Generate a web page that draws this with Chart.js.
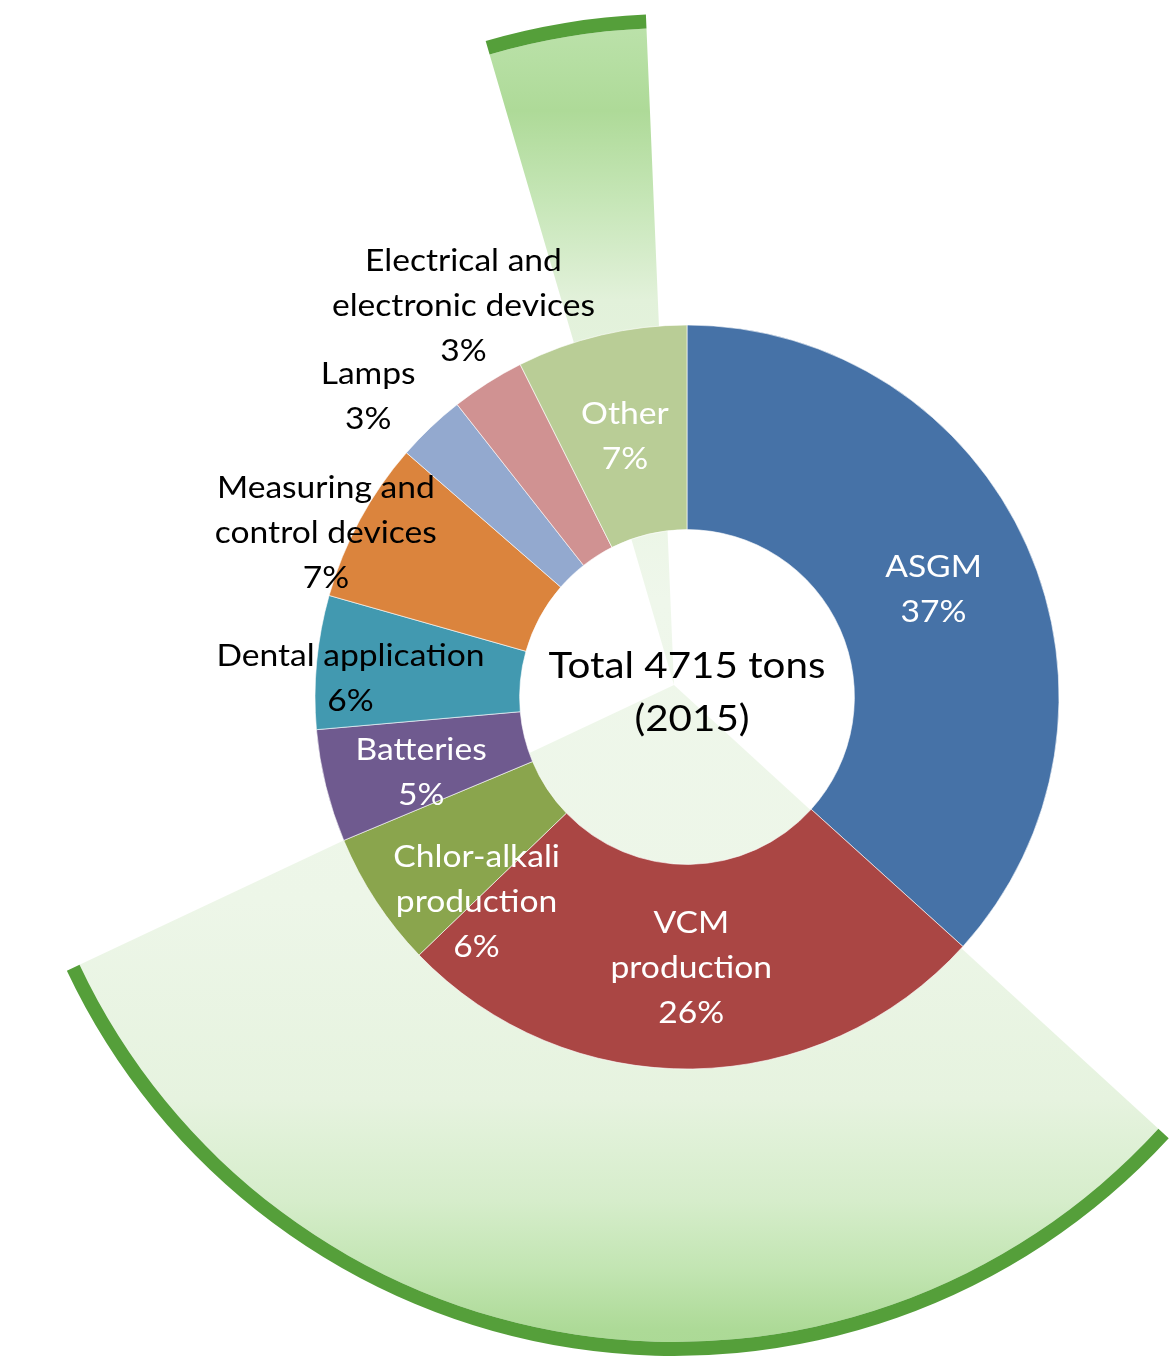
<!DOCTYPE html>
<html>
<head>
<meta charset="utf-8">
<title>Mercury use 2015</title>
<script src="https://cdn.jsdelivr.net/npm/chart.js@4.4.1/dist/chart.umd.min.js"></script>
<style>
    body { margin: 0; background: #ffffff; overflow: hidden; }
    #wrap { position: relative; width: 1171px; height: 1357px; }
    #wrap canvas { position: absolute; left: 0; top: 0; }
</style>
</head>
<body>
<div id="wrap">
    <canvas id="fanChart" width="1171" height="1357"></canvas>
    <canvas id="myChart" width="1171" height="1357"></canvas>
</div>
<script>
// categories and their share of the total (percent)
const categories = ['ASGM', 'VCM production', 'Chlor-alkali production', 'Batteries', 'Dental application',
    'Measuring and control devices', 'Lamps', 'Electrical and electronic devices', 'Other'];
const shares = [36.7, 26.1, 5.9, 4.9, 5.8, 7.0, 3.0, 3.2, 7.4];

// how the names wrap on the picture
const labelLines = [['ASGM'], ['VCM', 'production'], ['Chlor-alkali', 'production'], ['Batteries'],
    ['Dental application'], ['Measuring and', 'control devices'], ['Lamps'],
    ['Electrical and', 'electronic devices'], ['Other']];
const centerLines = ['Total 4715 tons', '(2015)'];

// green fan behind the ring: slice sizes in degrees clockwise from 12 o'clock
const fanAngles = [132.5, 112.3, 98.9, 13.9, 2.4];
const fanShown = [false, true, false, true, false];

const sliceColors = ['#4672A7', '#AA4644', '#8AA54D', '#6F5A8F', '#4299B0', '#DB843D', '#93A9CF', '#D09292', '#B9CD96'];
const labelColors = ['#ffffff', '#ffffff', '#ffffff', '#ffffff', '#000000', '#000000', '#000000', '#000000', '#ffffff'];
// some labels were dragged away from the middle of their slice
const labelNudge = [[0, 0], [0, 0], [15, 55], [-4, 9], [-68, 5], [-124, -37], [-133, -107], [-79, -165], [0, 0]];

// vertical gradient of the fan (y from 14 to 1356)
const fanStops = [[0, '#BDE2AC'], [0.034, '#B6DFA3'], [0.072, '#AEDA98'], [0.139, '#C6E6B7'], [0.213, '#E2F1DA'],
    [0.437, '#EFF7EB'], [0.66, '#EDF6E8'], [0.809, '#E6F3DF'], [0.884, '#D6EDCB'], [0.936, '#C2E5B2'],
    [0.98, '#ADDA97'], [1, '#ABD995']];

let fanFill = null;
function getFanFill(context) {
    const chart = context.chart;
    if (!chart.chartArea) return '#E6F3DF';
    if (!fanFill) {
        fanFill = chart.ctx.createLinearGradient(0, 14, 0, 1356);
        fanStops.forEach(s => fanFill.addColorStop(s[0], s[1]));
    }
    return fanFill;
}

function createFan() {
    const ctx = document.getElementById('fanChart').getContext('2d');
    return new Chart(ctx, {
        type: 'pie',
        data: {
            labels: fanAngles.map((a, i) => 'fan ' + i),
            datasets: [{
                // dark green rim
                data: fanAngles,
                backgroundColor: fanShown.map(s => s ? '#559F3A' : 'rgba(0,0,0,0)'),
                borderWidth: 0,
                weight: 14
            }, {
                data: fanAngles,
                backgroundColor: c => fanShown[c.dataIndex] ? getFanFill(c) : 'rgba(0,0,0,0)',
                borderWidth: 0,
                weight: 657
            }]
        },
        options: {
            responsive: false,
            animation: false,
            events: [],
            radius: 671,
            layout: { padding: { left: 177, top: 13 } },
            plugins: { legend: { display: false }, tooltip: { enabled: false } }
        }
    });
}

// text is a bit wider than Lato, so stretch it sideways
function stretchedText(ctx, text, x, y, stretch) {
    ctx.save();
    ctx.translate(x, y);
    ctx.scale(stretch, 1);
    ctx.fillText(text, 0, 0);
    ctx.restore();
}

// writes the names and percentages on the ring, and the total in the hole
const sliceLabels = {
    id: 'sliceLabels',
    afterDatasetsDraw(chart, args, opts) {
        const ctx = chart.ctx;
        const arcs = chart.getDatasetMeta(0).data;
        ctx.save();
        ctx.textAlign = 'center';
        ctx.textBaseline = 'middle';
        ctx.font = opts.font;
        arcs.forEach((arc, i) => {
            const pos = arc.tooltipPosition();
            const lines = labelLines[i].concat(Math.round(shares[i]) + '%');
            const x = pos.x + labelNudge[i][0];
            let y = pos.y + 2 + labelNudge[i][1] - (lines.length - 1) * opts.lineHeight / 2;
            ctx.fillStyle = labelColors[i];
            lines.forEach(line => {
                stretchedText(ctx, line, x, y, opts.stretch);
                y += opts.lineHeight;
            });
        });
        // total in the middle
        const cx = arcs[0].x, cy = arcs[0].y;
        ctx.font = opts.centerFont;
        ctx.fillStyle = '#000000';
        stretchedText(ctx, centerLines[0], cx, cy - 31, opts.stretch);
        stretchedText(ctx, centerLines[1], cx + 5, cy + 22, opts.stretch);
        ctx.restore();
    }
};

function createChart() {
    const ctx = document.getElementById('myChart').getContext('2d');
    return new Chart(ctx, {
        type: 'doughnut',
        data: {
            labels: categories,
            datasets: [{
                data: shares,
                backgroundColor: sliceColors,
                borderColor: 'rgba(255,255,255,0.6)',
                borderWidth: 1
            }]
        },
        options: {
            responsive: false,
            animation: false,
            events: [],
            radius: 372,
            cutout: '45%',
            layout: { padding: { left: 203, top: 37 } },
            plugins: {
                legend: { display: false },
                tooltip: { enabled: false },
                sliceLabels: {
                    font: '30px Lato',
                    centerFont: '36px Lato',
                    stretch: 1.12,
                    lineHeight: 45
                }
            }
        },
        plugins: [sliceLabels]
    });
}

createFan();
createChart();
</script>
</body>
</html>
